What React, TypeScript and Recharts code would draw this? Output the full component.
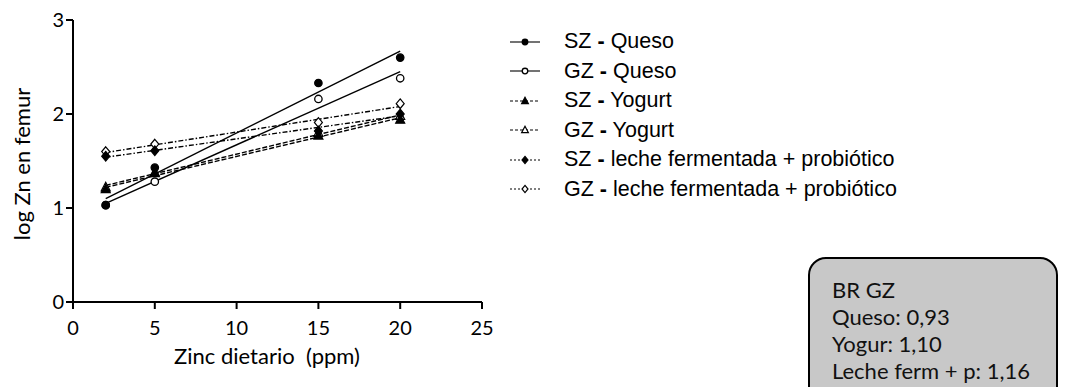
import { Legend, Scatter, ScatterChart, XAxis, YAxis, Label } from "recharts";

// dietary zinc levels (ppm)
const ZINC = [2, 5, 15, 20];

// log Zn in femur
const SZ_QUESO = [1.03, 1.43, 2.33, 2.6];
const GZ_QUESO = [1.03, 1.28, 2.16, 2.38];
const SZ_YOGURT = [1.2, 1.37, 1.77, 1.94];
const GZ_YOGURT = [1.22, 1.38, 1.8, 1.98];
const SZ_LECHE = [1.55, 1.61, 1.82, 2.0];
const GZ_LECHE = [1.6, 1.68, 1.91, 2.11];

// regression line end points (x = 2 and x = 20)
const FIT_X = [2, 20];
const FIT_SZ_QUESO = [1.1, 2.67];
const FIT_GZ_QUESO = [1.05, 2.45];
const FIT_SZ_YOGURT = [1.22, 1.96];
const FIT_GZ_YOGURT = [1.24, 1.99];
const FIT_SZ_LECHE = [1.54, 1.98];
const FIT_GZ_LECHE = [1.59, 2.08];

const X_TICKS = [0, 5, 10, 15, 20, 25];
const Y_TICKS = [0, 1, 2, 3];

const SERIES_NAMES = [
  "SZ - Queso",
  "GZ - Queso",
  "SZ - Yogurt",
  "GZ - Yogurt",
  "SZ - leche fermentada + probiótico",
  "GZ - leche fermentada + probiótico",
];

const BOX_LINES = ["BR GZ", "Queso: 0,93", "Yogur: 1,10", "Leche ferm + p: 1,16"];

const toPoints = (xs: number[], ys: number[]) => xs.map((x, i) => ({ x, y: ys[i] }));

type Kind = "circle" | "triangle" | "diamond";

function Marker({ cx, cy, kind, filled, s = 1 }: { cx: number; cy: number; kind: Kind; filled: boolean; s?: number }) {
  const fill = filled ? "#000" : "#fff";
  if (kind === "circle") {
    return <circle cx={cx} cy={cy} r={3.7 * s} fill={fill} stroke="#000" strokeWidth={1.3} />;
  }
  if (kind === "triangle") {
    const pts = `${cx},${cy - 5 * s} ${cx - 4.5 * s},${cy + 3.5 * s} ${cx + 4.5 * s},${cy + 3.5 * s}`;
    return <polygon points={pts} fill={fill} stroke="#000" strokeWidth={1.2} />;
  }
  const pts = `${cx},${cy - 4.8 * s} ${cx + 4 * s},${cy} ${cx},${cy + 4.8 * s} ${cx - 4 * s},${cy}`;
  return <polygon points={pts} fill={fill} stroke="#000" strokeWidth={1.2} />;
}

const shape = (kind: Kind, filled: boolean) => (p: any) => (
  <Marker cx={p.cx} cy={p.cy} kind={kind} filled={filled} />
);

const KINDS: Kind[] = ["circle", "circle", "triangle", "triangle", "diamond", "diamond"];
const DASHES = ["", "", "5 2", "5 2", "5 2 1.5 2", "5 2 1.5 2"];
const LEGEND_DASH = ["", "", "3 2", "3 2", "2 2", "2 2"];

function LegendBox() {
  return (
    <div style={{ fontFamily: "'Liberation Sans', Arial, sans-serif", fontSize: 21.5, color: "#000" }}>
      {SERIES_NAMES.map((name, i) => {
        const [grp, rest] = name.split(" - ");
        return (
          <div key={name} style={{ display: "flex", alignItems: "center", height: 29.5 }}>
            <svg width={64} height={20} style={{ flex: "none" }}>
              <line x1={10} y1={10} x2={40} y2={10} stroke="#000" strokeWidth={1.1} strokeDasharray={LEGEND_DASH[i] || undefined} />
              <Marker cx={25} cy={10} kind={KINDS[i]} filled={i % 2 === 0} s={0.75} />
            </svg>
            <span style={{ whiteSpace: "pre" }}>
              {grp} <b>-</b> {rest}
            </span>
          </div>
        );
      })}
    </div>
  );
}

export default function App() {
  const series = [SZ_QUESO, GZ_QUESO, SZ_YOGURT, GZ_YOGURT, SZ_LECHE, GZ_LECHE];
  const fits = [FIT_SZ_QUESO, FIT_GZ_QUESO, FIT_SZ_YOGURT, FIT_GZ_YOGURT, FIT_SZ_LECHE, FIT_GZ_LECHE];
  const axisFont = { fontFamily: "Lato, sans-serif", fontSize: 20, fill: "#000" };

  return (
    <div style={{ position: "fixed", left: 0, top: 0, width: 1065, height: 387, overflow: "hidden", background: "#fff" }}>
      <ScatterChart width={1065} height={387} margin={{ top: 20, right: 583, left: 18, bottom: 45 }}>
        <XAxis
          type="number"
          dataKey="x"
          domain={[0, 25]}
          ticks={X_TICKS}
          height={40}
          tickSize={7}
          tickMargin={12}
          tick={axisFont}
          axisLine={{ stroke: "#000", strokeWidth: 2 }}
          tickLine={{ stroke: "#000", strokeWidth: 2 }}
        >
          <Label
            content={() => (
              <text x={267} y={364} textAnchor="middle" style={{ whiteSpace: "pre" }} fontFamily="Lato, sans-serif" fontSize={22} fill="#000">
                Zinc dietario  (ppm)
              </text>
            )}
          />
        </XAxis>
        <YAxis
          type="number"
          dataKey="y"
          domain={[0, 3]}
          ticks={Y_TICKS}
          width={55}
          tickSize={7}
          tickMargin={2}
          tick={axisFont}
          axisLine={{ stroke: "#000", strokeWidth: 2 }}
          tickLine={{ stroke: "#000", strokeWidth: 2 }}
        >
          <Label
            content={() => (
              <text x={0} y={0} transform="translate(30,164) rotate(-90)" textAnchor="middle" fontFamily="Lato, sans-serif" fontSize={22} fill="#000">
                log Zn en femur
              </text>
            )}
          />
        </YAxis>
        {fits.map((f, i) => (
          <Scatter
            key={`fit-${i}`}
            data={toPoints(FIT_X, f)}
            fill="#000"
            line={{ stroke: "#000", strokeWidth: 1.4, strokeDasharray: DASHES[i] || undefined }}
            shape={() => <g />}
            isAnimationActive={false}
            legendType="none"
          />
        ))}
        {[1, 0, 3, 2, 5, 4].map((i) => (
          <Scatter
            key={`pts-${i}`}
            name={SERIES_NAMES[i]}
            data={toPoints(ZINC, series[i])}
            fill="#000"
            shape={shape(KINDS[i], i % 2 === 0)}
            isAnimationActive={false}
          />
        ))}
        <Legend
          layout="vertical"
          align="center"
          verticalAlign="middle"
          content={() => <LegendBox />}
          wrapperStyle={{ position: "absolute", left: 500, top: 27, width: 480, height: 180 }}
        />
      </ScatterChart>
      <div
        style={{
          position: "absolute",
          left: 808,
          top: 257,
          width: 250,
          height: 150,
          border: "2px solid #000",
          borderRadius: 18,
          background: "#c8c8c8",
          paddingTop: 17,
          paddingLeft: 22,
          boxSizing: "border-box",
          fontFamily: "Lato, sans-serif",
          fontSize: 22,
          lineHeight: "27px",
          color: "#111",
        }}
      >
        {BOX_LINES.map((t) => (
          <div key={t}>{t}</div>
        ))}
      </div>
    </div>
  );
}
